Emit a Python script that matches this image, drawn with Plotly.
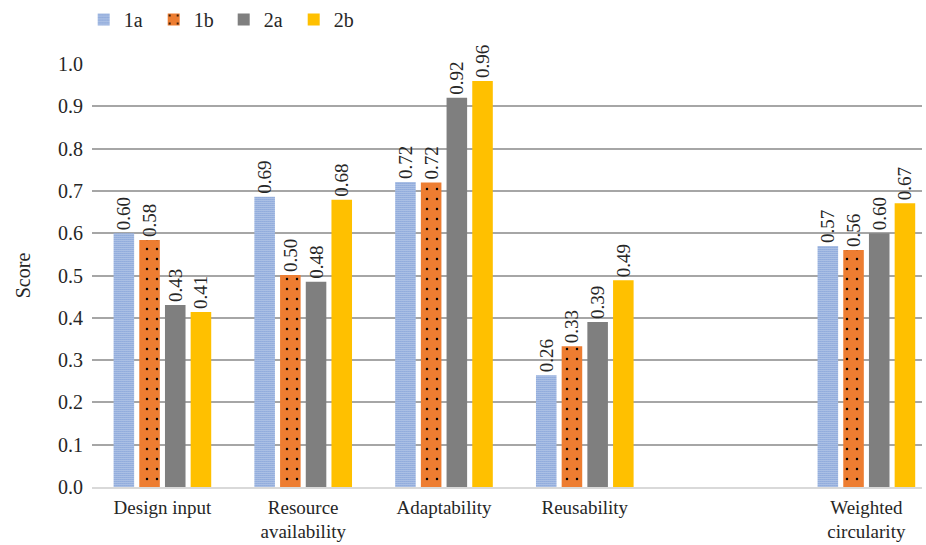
import plotly.graph_objects as go

categories = ["Design input", "Resource<br>availability", "Adaptability", "Reusability", "Weighted<br>circularity"]
cat_pos = [0, 1, 2, 3, 5]
series_names = ["1a", "1b", "2a", "2b"]
v_1a = [0.600, 0.686, 0.721, 0.264, 0.570]
v_1b = [0.584, 0.501, 0.720, 0.333, 0.560]
v_2a = [0.430, 0.485, 0.920, 0.390, 0.600]
v_2b = [0.414, 0.679, 0.960, 0.489, 0.671]
y_ticks = [0.0, 0.1, 0.2, 0.3, 0.4, 0.5, 0.6, 0.7, 0.8, 0.9, 1.0]

FONT = "Liberation Serif, DejaVu Serif, serif"
styles = [
    dict(color="white", pattern=dict(shape=".", fgcolor="#4472C4", bgcolor="white", size=2, solidity=0.58, fillmode="replace")),
    dict(color="#ED7D31", pattern=dict(shape=".", fgcolor="black", bgcolor="#ED7D31", size=10, solidity=0.05, fillmode="replace")),
    dict(color="#7F7F7F"),
    dict(color="#FFC000"),
]

fig = go.Figure()
for name, vals, st in zip(series_names, [v_1a, v_1b, v_2a, v_2b], styles):
    fig.add_trace(go.Bar(
        x=cat_pos, y=vals, name=name, marker=dict(line=dict(width=0), **st),
        texttemplate="%{y:.2f}", textposition="outside", textangle=-90,
        constraintext="none", cliponaxis=False,
        textfont=dict(family=FONT, size=19, color="#262626"),
    ))

fig.update_layout(
    width=926, height=545,
    margin=dict(l=92, r=4, t=64, b=58, autoexpand=False),
    paper_bgcolor="white", plot_bgcolor="white",
    barmode="group", bargap=0.27, bargroupgap=0.2,
    font=dict(family=FONT, size=19, color="#262626"),
    legend=dict(orientation="h", x=-0.01, xref="paper", y=1.0, yref="container", yanchor="top",
                xanchor="left", font=dict(family=FONT, size=20), itemwidth=30,
                entrywidth=25, entrywidthmode="pixels",
                tracegroupgap=0, traceorder="normal"),
    xaxis=dict(tickmode="array", tickvals=cat_pos, ticktext=categories, automargin=False,
               range=[-0.5, 5.395], showgrid=False, zeroline=False, ticks="",
               showline=True, linecolor="#D9D9D9", linewidth=1.5, ticklabelstandoff=2,
               tickfont=dict(family=FONT, size=19, color="#262626")),
    yaxis=dict(range=[0, 1.0], tickmode="array", tickvals=y_ticks, automargin=False,
               ticktext=[f"{t:.1f}" for t in y_ticks],
               showgrid=True, gridcolor="#A6A6A6", gridwidth=1.5, zeroline=False,
               ticks="", ticklabelstandoff=8,
               title=dict(text="Score", font=dict(family=FONT, size=20, color="#262626"), standoff=22),
               tickfont=dict(family=FONT, size=20, color="#262626")),
)

fig.write_html("out.html")
